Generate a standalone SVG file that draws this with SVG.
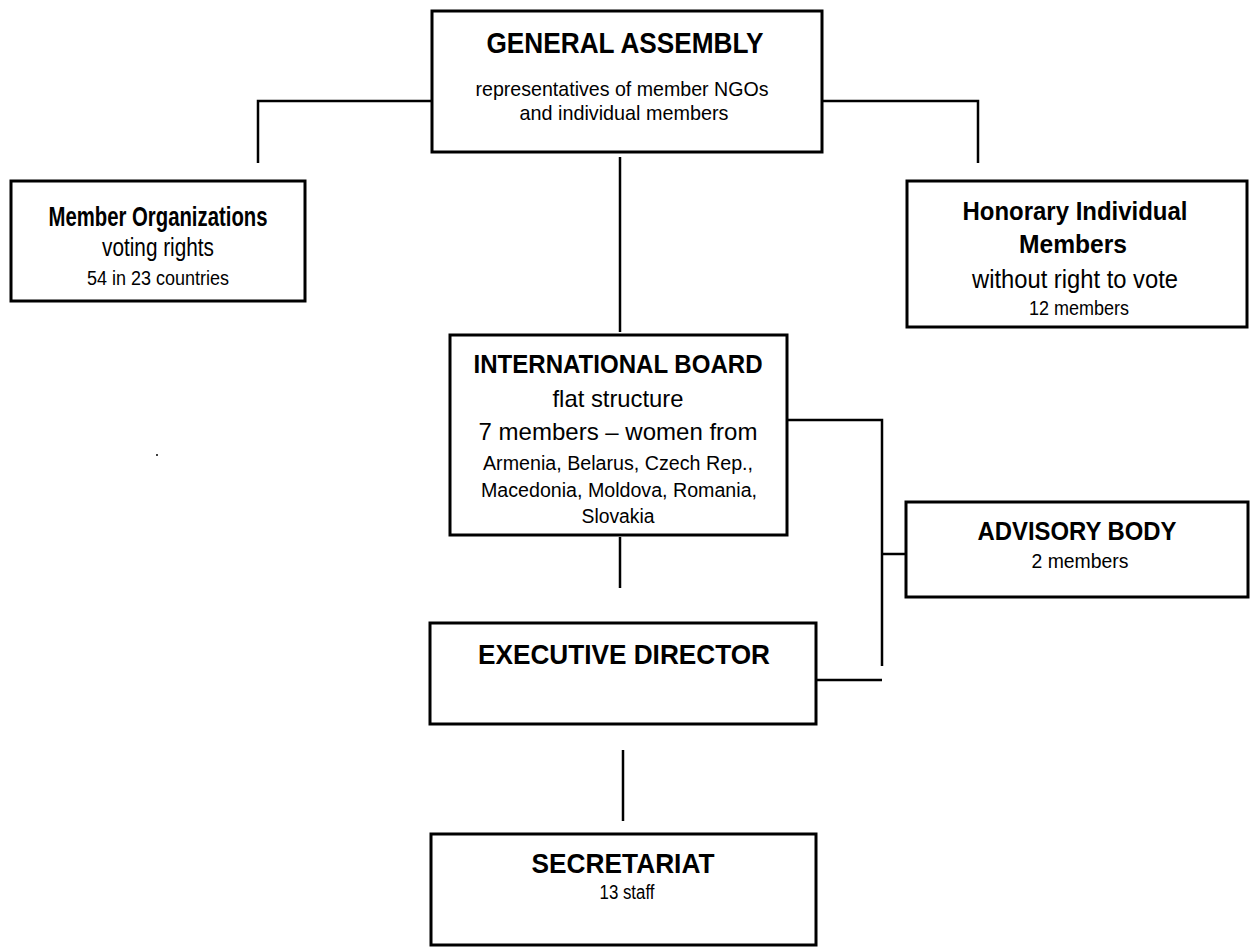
<svg xmlns="http://www.w3.org/2000/svg" width="1250" height="948" viewBox="0 0 1250 948">
<style>
.box{fill:#fff;stroke:#000;stroke-width:3}
.ln{fill:none;stroke:#000;stroke-width:2.5}
text{font-family:"Liberation Sans",Arial,sans-serif;fill:#000;text-anchor:middle}
.b{font-weight:bold;font-size:27px}
.m{font-size:24px}
.s{font-size:20px}
</style>
<rect width="1250" height="948" fill="#fff"/>
<g id="connectors">
<path class="ln" d="M258 163 V101 H432"/>
<path class="ln" d="M822 101 H978 V163"/>
<path class="ln" d="M620 157 V332"/>
<path class="ln" d="M620 537 V588"/>
<path class="ln" d="M787 420 H882 V666"/>
<path class="ln" d="M882 554 H907"/>
<path class="ln" d="M816 680 H882"/>
<path class="ln" d="M623 750 V821"/>
</g>
<g id="general-assembly">
<rect class="box" x="432" y="11" width="390" height="141"/>
<text class="b" x="625" y="53" style="font-size:30px" textLength="277" lengthAdjust="spacingAndGlyphs">GENERAL ASSEMBLY</text>
<text class="s" x="622" y="96" style="font-size:21px" textLength="293" lengthAdjust="spacingAndGlyphs">representatives of member NGOs</text>
<text class="s" x="624" y="120" style="font-size:21px" textLength="209" lengthAdjust="spacingAndGlyphs">and individual members</text>
</g>
<g id="member-organizations">
<rect class="box" x="11" y="181" width="294" height="120"/>
<text class="b" x="158" y="226" textLength="219" lengthAdjust="spacingAndGlyphs">Member Organizations</text>
<text class="m" x="158" y="256" style="font-size:26px" textLength="112" lengthAdjust="spacingAndGlyphs">voting rights</text>
<text class="s" x="158" y="285" textLength="142" lengthAdjust="spacingAndGlyphs">54 in 23 countries</text>
</g>
<g id="honorary-members">
<rect class="box" x="907" y="181" width="340" height="146"/>
<text class="b" x="1075" y="220" style="font-size:25px" textLength="225" lengthAdjust="spacingAndGlyphs">Honorary Individual</text>
<text class="b" x="1073" y="253" style="font-size:25px" textLength="108" lengthAdjust="spacingAndGlyphs">Members</text>
<text class="m" x="1075" y="288" style="font-size:25px" textLength="206" lengthAdjust="spacingAndGlyphs">without right to vote</text>
<text class="s" x="1079" y="315" textLength="100" lengthAdjust="spacingAndGlyphs">12 members</text>
</g>
<g id="international-board">
<rect class="box" x="450" y="335" width="337" height="200"/>
<text class="b" x="618" y="373" style="font-size:25.5px" textLength="289" lengthAdjust="spacingAndGlyphs">INTERNATIONAL BOARD</text>
<text class="m" x="618" y="407" textLength="131" lengthAdjust="spacingAndGlyphs">flat structure</text>
<text class="m" x="618" y="440" textLength="279" lengthAdjust="spacingAndGlyphs">7 members – women from</text>
<text class="s" x="618" y="470" textLength="270" lengthAdjust="spacingAndGlyphs">Armenia, Belarus, Czech Rep.,</text>
<text class="s" x="619" y="497" textLength="276" lengthAdjust="spacingAndGlyphs">Macedonia, Moldova, Romania,</text>
<text class="s" x="618" y="523" textLength="73" lengthAdjust="spacingAndGlyphs">Slovakia</text>
</g>
<g id="advisory-body">
<rect class="box" x="906" y="502" width="342" height="95"/>
<text class="b" x="1077" y="540" style="font-size:25px" textLength="199" lengthAdjust="spacingAndGlyphs">ADVISORY BODY</text>
<text class="s" x="1080" y="568" textLength="97" lengthAdjust="spacingAndGlyphs">2 members</text>
</g>
<g id="executive-director">
<rect class="box" x="430" y="623" width="386" height="101"/>
<text class="b" x="624" y="664" style="font-size:28px" textLength="292" lengthAdjust="spacingAndGlyphs">EXECUTIVE DIRECTOR</text>
</g>
<g id="secretariat">
<rect class="box" x="431" y="834" width="385" height="111"/>
<text class="b" x="623" y="873" style="font-size:28px" textLength="183" lengthAdjust="spacingAndGlyphs">SECRETARIAT</text>
<text class="s" x="627" y="899" textLength="55" lengthAdjust="spacingAndGlyphs">13 staff</text>
</g>
<circle cx="157" cy="455" r="1" fill="#000"/>
</svg>
